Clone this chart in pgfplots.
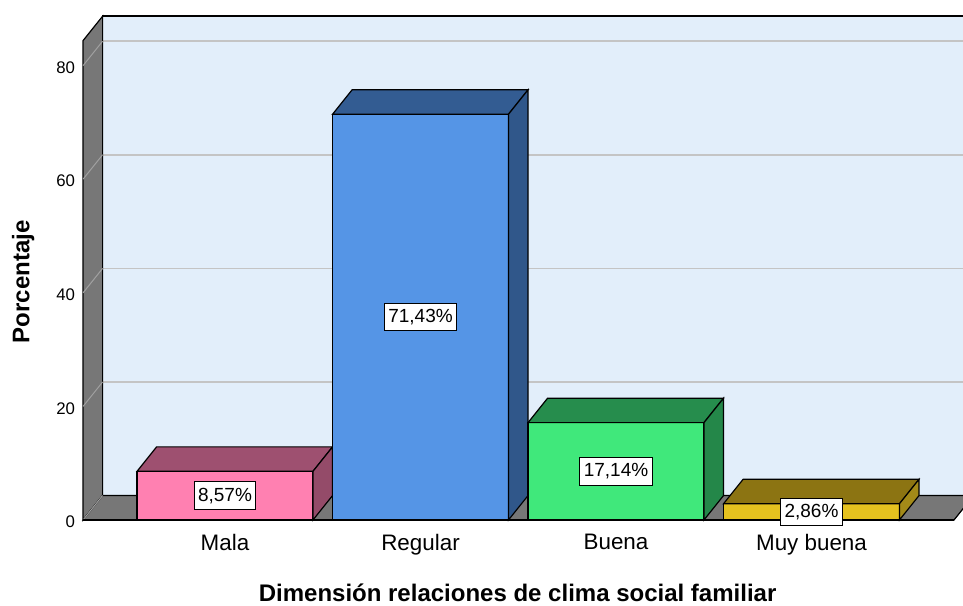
\documentclass[border=0pt]{standalone}
\usepackage{fontspec}
\setmainfont{Liberation Sans}
\usepackage{pgfplots}
\pgfplotsset{compat=1.18}

\definecolor{wallblue}{HTML}{E2EEFA}
\definecolor{wallgray}{HTML}{777777}
\definecolor{gridback}{HTML}{C4C4C4}
\definecolor{gridside}{HTML}{A0A0A0}
\definecolor{malaF}{HTML}{FF80B1}
\definecolor{malaT}{HTML}{9E5070}
\definecolor{malaS}{HTML}{944B69}
\definecolor{regF}{HTML}{5595E6}
\definecolor{regT}{HTML}{335C92}
\definecolor{regS}{HTML}{30578A}
\definecolor{bueF}{HTML}{40E87B}
\definecolor{bueT}{HTML}{268D4D}
\definecolor{bueS}{HTML}{248749}
\definecolor{muyF}{HTML}{E5C21F}
\definecolor{muyT}{HTML}{8C7412}
\definecolor{muyS}{HTML}{A38A18}

% depth offset of the oblique view: dx = 0.1 category, dy = 4.3 units
\begin{document}
\begin{tikzpicture}
\begin{axis}[
  x=97.75pt, y=2.84pt,
  xmin=-0.726, xmax=3.775, ymin=0, ymax=88.7,
  clip=false,
  axis line style={draw=none},
  tick style={draw=none},
  xtick={0,1,2,3},
  xticklabels={Mala,Regular,Buena,Muy buena},
  ytick={0,20,40,60,80},
  /pgf/number format/assume math mode=true,
  yticklabel style={font=\fontsize{8.4}{10}\selectfont, xshift=-0.5pt, yshift=-1pt},
  xticklabel style={font=\fontsize{11.2}{13}\selectfont, yshift=-3.7pt},
  xlabel={Dimensión relaciones de clima social familiar},
  ylabel={Porcentaje},
  xlabel style={font=\fontsize{12}{14}\selectfont\bfseries,
                at={(axis description cs:0.4938,-0.1449)}, anchor=center},
  ylabel style={font=\fontsize{12}{14}\selectfont\bfseries,
                at={(axis description cs:-0.0682,0.4724)}, anchor=center, rotate=0},
]

% ---- back wall ---------------------------------------------------------
\addplot[fill=wallblue, draw=black, line width=0.8pt]
  coordinates {(-0.626,4.3) (3.875,4.3) (3.875,88.7) (-0.626,88.7)} -- cycle;
\addplot[gridback, line width=0.8pt] coordinates {(-0.626,24.3) (3.875,24.3)};
\addplot[gridback, line width=0.8pt] coordinates {(-0.626,44.3) (3.875,44.3)};
\addplot[gridback, line width=0.8pt] coordinates {(-0.626,64.3) (3.875,64.3)};
\addplot[gridback, line width=0.8pt] coordinates {(-0.626,84.3) (3.875,84.3)};

% ---- left wall ---------------------------------------------------------
\addplot[fill=wallgray, draw=black, line width=0.6pt]
  coordinates {(-0.726,0) (-0.726,84.4) (-0.626,88.7) (-0.626,4.3)} -- cycle;
\addplot[gridside, line width=0.5pt] coordinates {(-0.726,20) (-0.626,24.3)};
\addplot[gridside, line width=0.5pt] coordinates {(-0.726,40) (-0.626,44.3)};
\addplot[gridside, line width=0.5pt] coordinates {(-0.726,60) (-0.626,64.3)};
\addplot[gridside, line width=0.5pt] coordinates {(-0.726,80) (-0.626,84.3)};

% ---- floor -------------------------------------------------------------
\addplot[fill=wallgray, draw=black, line width=0.6pt]
  coordinates {(-0.726,0) (3.729,0) (3.829,4.3) (-0.626,4.3)} -- cycle;
\addplot[gridside, line width=0.5pt] coordinates {(-0.726,0) (-0.626,4.3)};
\addplot[black, line width=1.1pt] coordinates {(-0.726,0) (3.729,0)};

% ---- Mala 8.57 ---------------------------------------------------------
\addplot[fill=malaF, draw=black, line width=0.6pt]
  coordinates {(-0.45,0) (0.45,0) (0.45,8.57) (-0.45,8.57)} -- cycle;
\addplot[fill=malaT, draw=black, line width=0.6pt]
  coordinates {(-0.45,8.57) (0.45,8.57) (0.55,12.87) (-0.35,12.87)} -- cycle;
\addplot[fill=malaS, draw=black, line width=0.6pt]
  coordinates {(0.45,0) (0.55,4.3) (0.55,12.87) (0.45,8.57)} -- cycle;

% ---- Regular 71.43 -----------------------------------------------------
\addplot[fill=regF, draw=black, line width=0.6pt]
  coordinates {(0.55,0) (1.45,0) (1.45,71.43) (0.55,71.43)} -- cycle;
\addplot[fill=regT, draw=black, line width=0.6pt]
  coordinates {(0.55,71.43) (1.45,71.43) (1.55,75.73) (0.65,75.73)} -- cycle;
\addplot[fill=regS, draw=black, line width=0.6pt]
  coordinates {(1.45,0) (1.55,4.3) (1.55,75.73) (1.45,71.43)} -- cycle;

% ---- Buena 17.14 -------------------------------------------------------
\addplot[fill=bueF, draw=black, line width=0.6pt]
  coordinates {(1.55,0) (2.45,0) (2.45,17.14) (1.55,17.14)} -- cycle;
\addplot[fill=bueT, draw=black, line width=0.6pt]
  coordinates {(1.55,17.14) (2.45,17.14) (2.55,21.44) (1.65,21.44)} -- cycle;
\addplot[fill=bueS, draw=black, line width=0.6pt]
  coordinates {(2.45,0) (2.55,4.3) (2.55,21.44) (2.45,17.14)} -- cycle;

% ---- Muy buena 2.86 ----------------------------------------------------
\addplot[fill=muyF, draw=black, line width=0.6pt]
  coordinates {(2.55,0) (3.45,0) (3.45,2.86) (2.55,2.86)} -- cycle;
\addplot[fill=muyT, draw=black, line width=0.6pt]
  coordinates {(2.55,2.86) (3.45,2.86) (3.55,7.16) (2.65,7.16)} -- cycle;
\addplot[fill=muyS, draw=black, line width=0.6pt]
  coordinates {(3.45,0) (3.55,4.3) (3.55,7.16) (3.45,2.86)} -- cycle;

% ---- value labels at mid height of each front face --------------------
\addplot[draw=none, nodes near coords, point meta=explicit symbolic,
  nodes near coords align={center},
  every node near coord/.append style={font=\fontsize{9.5}{11}\selectfont,
    fill=white, draw=black, line width=0.5pt, inner xsep=2pt, inner ysep=3pt}]
  coordinates {(0,4.285) [8,57\%] (1,35.715) [71,43\%]
               (2,8.57) [17,14\%] (3,1.43) [2,86\%]};

\coordinate (bbl) at (axis cs:-1.151,-15.14);
\coordinate (btr) at (axis cs:3.775,91.55);
\end{axis}
\pgfresetboundingbox
\useasboundingbox (bbl) rectangle (btr);
\end{tikzpicture}
\end{document}
